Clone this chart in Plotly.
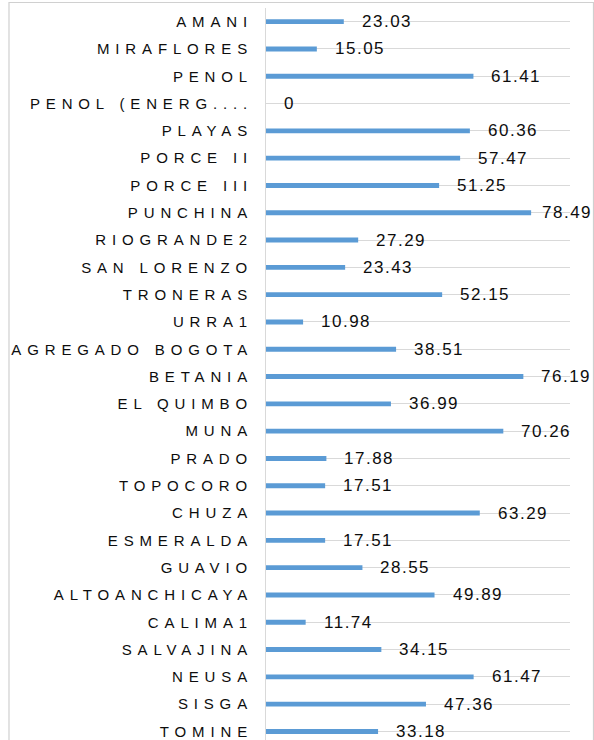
import plotly.graph_objects as go

categories = ["AMANI", "MIRAFLORES", "PENOL", "PENOL (ENERG....", "PLAYAS", "PORCE II",
              "PORCE III", "PUNCHINA", "RIOGRANDE2", "SAN LORENZO", "TRONERAS", "URRA1",
              "AGREGADO BOGOTA", "BETANIA", "EL QUIMBO", "MUNA", "PRADO", "TOPOCORO",
              "CHUZA", "ESMERALDA", "GUAVIO", "ALTOANCHICAYA", "CALIMA1", "SALVAJINA",
              "NEUSA", "SISGA", "TOMINE"]
values = [23.03, 15.05, 61.41, 0, 60.36, 57.47, 51.25, 78.49, 27.29, 23.43, 52.15, 10.98,
          38.51, 76.19, 36.99, 70.26, 17.88, 17.51, 63.29, 17.51, 28.55, 49.89, 11.74,
          34.15, 61.47, 47.36, 33.18]
value_labels = ["0" if v == 0 else f"{v:.2f}" for v in values]

W, H = 594, 740
ML, MR, MT, MB = 266, 24, 8, 0
XMAX = 90
plot_w = W - ML - MR
scale = plot_w / XMAX
LABEL_W = 50
RIGHT_LIMIT = 590 - ML

idx = list(range(len(categories)))

fig = go.Figure()
fig.add_trace(go.Bar(
    y=idx, x=values, orientation="h",
    marker=dict(color="#5B9BD5", line=dict(width=0)),
    width=0.18, hoverinfo="skip"
))

font_fam = "Liberation Sans, Arial, sans-serif"
annotations = []
for i, (v, t) in enumerate(zip(values, value_labels)):
    shift = min(16, RIGHT_LIMIT - LABEL_W - v * scale)
    annotations.append(dict(
        x=v, y=i, xref="x", yref="y", text=f'<span style="letter-spacing:1.5px">{t}</span>',
        showarrow=False, xanchor="left", yanchor="middle", xshift=shift,
        font=dict(family=font_fam, size=17, color="#0d0d0d"),
    ))

ticktext = [f'<span style="letter-spacing:5.85px">{c}</span>' for c in categories]

plot_h = H - MT - MB
row_px = 27.3
ybottom = -0.5 + plot_h / row_px

fig.update_layout(
    template="none",
    width=W, height=H,
    margin=dict(l=ML, r=MR, t=MT, b=MB, pad=0, autoexpand=False),
    paper_bgcolor="white", plot_bgcolor="white",
    showlegend=False,
    annotations=annotations,
    xaxis=dict(range=[0, XMAX], showgrid=False, zeroline=False, showticklabels=False,
               showline=False, ticks="", automargin=False),
    yaxis=dict(range=[ybottom, -0.5], tickmode="array", tickvals=idx, ticktext=ticktext,
               showgrid=True, gridcolor="#d9d9d9", gridwidth=1, zeroline=False,
               showline=True, linecolor="#d9d9d9", linewidth=1, ticks="",
               tickfont=dict(family=font_fam, size=15, color="#0d0d0d"),
               ticklabelstandoff=9, automargin=False),
    shapes=[dict(type="rect", xref="paper", yref="paper",
                 x0=(9 - ML) / plot_w, x1=(593.5 - ML) / plot_w,
                 y0=-0.05, y1=1 + (MT - 2.5) / plot_h,
                 line=dict(color="#d0d0d0", width=1.2), fillcolor="rgba(0,0,0,0)",
                 layer="below")],
)
fig.write_html("out.html", config={"displayModeBar": False},
               post_script="document.body.style.margin='0';document.body.style.padding='0';")
